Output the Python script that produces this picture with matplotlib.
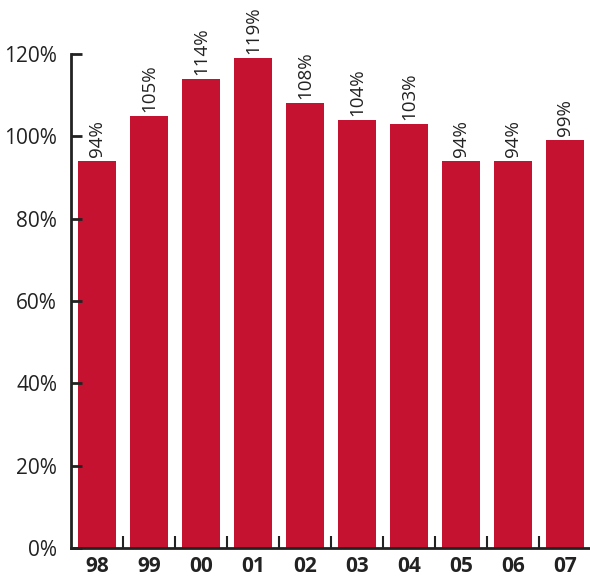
import matplotlib.pyplot as plt
import numpy as np

# Values
years = ['98', '99', '00', '01', '02', '03', '04', '05', '06', '07']
values = [94, 105, 114, 119, 108, 104, 103, 94, 94, 99]
yticks = [0, 20, 40, 60, 80, 100, 120]

plt.rcParams['font.family'] = ['Open Sans', 'DejaVu Sans']
red = '#c41230'
dark = '#222222'

fig = plt.figure(figsize=(5.9, 5.8), dpi=100)
ax = fig.add_axes([71 / 590, 32 / 580, 520 / 590, 494 / 580])

x = np.arange(len(years))
bars = ax.bar(x, values, width=0.73, color=red, zorder=1)

for xi, v in zip(x, values):
    ax.text(xi, v + 1.0, f'{v}%', rotation=90, ha='center', va='bottom',
            fontsize=13.5, color=dark)

ax.set_xlim(-0.5, 9.5)
ax.set_ylim(0, 120)
ax.set_yticks(yticks)
ax.set_yticklabels([f'{t}%' for t in yticks], fontsize=15, color=dark)
ax.set_xticks(x)
ax.set_xticklabels(years, fontsize=15, fontweight='bold', color=dark)
ax.tick_params(axis='x', which='major', length=0, pad=6)
ax.set_xticks(x[:-1] + 0.5, minor=True)
ax.tick_params(axis='x', which='minor', direction='in', length=9, width=1.5, color=dark)
ax.tick_params(axis='y', direction='in', length=8, width=2, color=dark, pad=10)

for side in ['top', 'right']:
    ax.spines[side].set_visible(False)
for side in ['left', 'bottom']:
    ax.spines[side].set_linewidth(2)
    ax.spines[side].set_color(dark)
    ax.spines[side].set_zorder(3)

fig.savefig('out.png', dpi=100)
